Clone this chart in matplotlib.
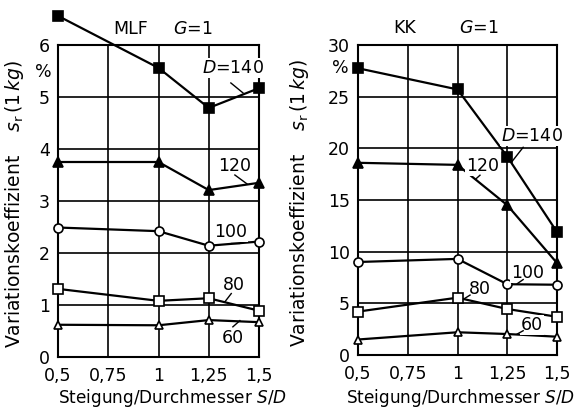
import matplotlib
matplotlib.use("Agg")
import matplotlib.pyplot as plt
from matplotlib.ticker import FixedLocator

plt.rcParams['font.family'] = ['DejaVu Sans']

sd = [0.5, 1.0, 1.25, 1.5]
x_ticks = [0.5, 0.75, 1.0, 1.25, 1.5]
x_tick_labels = ["0,5", "0,75", "1", "1,25", "1,5"]

mlf_140 = [6.56, 5.56, 4.79, 5.17]
mlf_120 = [3.75, 3.75, 3.21, 3.35]
mlf_100 = [2.49, 2.42, 2.14, 2.22]
mlf_80 = [1.31, 1.08, 1.13, 0.89]
mlf_60 = [0.62, 0.61, 0.71, 0.67]

kk_140 = [27.75, 25.7, 19.2, 11.9]
kk_120 = [18.6, 18.4, 14.5, 8.9]
kk_100 = [9.0, 9.3, 6.85, 6.8]
kk_80 = [4.2, 5.55, 4.45, 3.7]
kk_60 = [1.5, 2.2, 2.03, 1.77]

mlf_yticks = [0, 1, 2, 3, 4, 5, 6]
kk_yticks = [0, 5, 10, 15, 20, 25, 30]

styles = {
    140: dict(marker='s', mfc='black', ms=6.5),
    120: dict(marker='^', mfc='black', ms=6.5),
    100: dict(marker='o', mfc='white', ms=6.5),
    80: dict(marker='s', mfc='white', ms=7),
    60: dict(marker='^', mfc='white', ms=6),
}

fig = plt.figure(figsize=(5.86, 4.08), dpi=100)
ax1 = fig.add_axes([58/586, 1-357/408, 201/586, 312/408])
ax2 = fig.add_axes([358/586, 1-355/408, 199/586, 310/408])

fs = 12.5

def setup(ax, yticks, ymax, pct_xy, ylab_x, xlab_xy):
    ax.set_xlim(0.5, 1.5)
    ax.set_ylim(0, ymax)
    ax.xaxis.set_major_locator(FixedLocator(x_ticks))
    ax.set_xticklabels(x_tick_labels, fontsize=fs)
    ax.yaxis.set_major_locator(FixedLocator(yticks))
    ax.set_yticklabels([str(v) for v in yticks], fontsize=fs)
    ax.tick_params(axis='y', length=0, pad=6)
    ax.tick_params(axis='x', length=0, pad=7)
    ax.grid(True, color='black', lw=1.2)
    for s in ax.spines.values():
        s.set_linewidth(1.5)
    ax.text(pct_xy[0], pct_xy[1], "%", transform=ax.transAxes, fontsize=fs,
            ha='center', va='center')
    ax.set_xlabel("Steigung/Durchmesser $\\it{S/D}$", fontsize=12.2)
    ax.xaxis.set_label_coords(*xlab_xy)
    ax.set_ylabel("Variationskoeffizient    $\\it{s}_{\\rm r}\\,(\\it{1\\,kg})$",
                  fontsize=13.5)
    ax.yaxis.set_label_coords(ylab_x, 0.49)

def series(ax, data):
    for key, vals in data:
        st = styles[key]
        ax.plot(sd, vals, color='black', lw=1.6, marker=st['marker'],
                mfc=st['mfc'], mec='black', mew=1.2, ms=st['ms'],
                clip_on=False, zorder=3)

def label(ax, text, xy_text, xy_line, xy_end):
    ax.text(*xy_text, text, fontsize=fs, ha='center', va='center', zorder=4,
            bbox=dict(fc='white', ec='none', pad=0.5))
    ax.plot([xy_line[0], xy_end[0]], [xy_line[1], xy_end[1]], color='black',
            lw=1.0, zorder=4)

setup(ax1, mlf_yticks, 6, (-0.075, 0.913), -0.159, (0.572, -0.096))
series(ax1, [(140, mlf_140), (120, mlf_120), (100, mlf_100), (80, mlf_80), (60, mlf_60)])
ax1.text(0.863, 6.31, "MLF", fontsize=fs, ha='center', va='center')
ax1.text(1.17, 6.31, "$\\it{G}$=1", fontsize=fs, ha='center', va='center')
label(ax1, "$\\it{D}$=140", (1.37, 5.56), (1.36, 5.27), (1.42, 5.08))
label(ax1, "120", (1.38, 3.67), (1.38, 3.5), (1.44, 3.33))
label(ax1, "100", (1.36, 2.40), (1.36, 2.2), (1.40, 2.2))
label(ax1, "80", (1.376, 1.38), (1.362, 1.22), (1.33, 1.06))
label(ax1, "60", (1.37, 0.36), (1.37, 0.58), (1.405, 0.70))

setup(ax2, kk_yticks, 30, (-0.09, 0.926), -0.236, (0.513, -0.103))
series(ax2, [(140, kk_140), (120, kk_120), (100, kk_100), (80, kk_80), (60, kk_60)])
ax2.text(0.735, 31.65, "KK", fontsize=fs, ha='center', va='center')
ax2.text(1.108, 31.65, "$\\it{G}$=1", fontsize=fs, ha='center', va='center')
label(ax2, "$\\it{D}$=140", (1.374, 21.2), (1.33, 20.1), (1.273, 18.7))
label(ax2, "120", (1.126, 18.25), (1.113, 17.4), (1.09, 17.0))
label(ax2, "100", (1.35, 7.9), (1.33, 7.3), (1.30, 6.9))
label(ax2, "80", (1.113, 6.4), (1.063, 5.8), (1.03, 5.4))
label(ax2, "60", (1.374, 2.9), (1.33, 2.35), (1.30, 2.03))

fig.savefig("out.png", dpi=100)
